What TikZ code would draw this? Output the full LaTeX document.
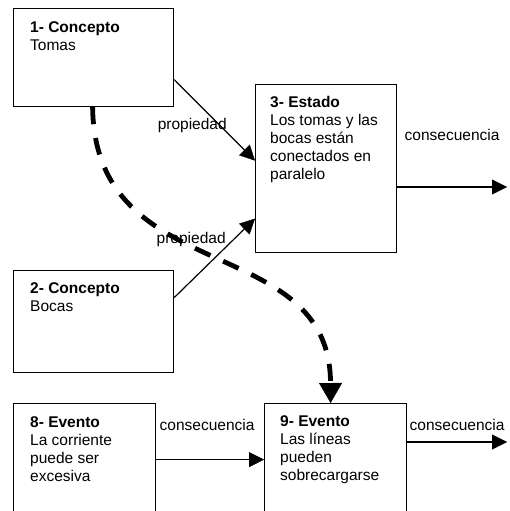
\documentclass[tikz,border=0pt]{standalone}
\usepackage{fontspec}
\setmainfont{Liberation Sans}
\usetikzlibrary{arrows.meta,positioning}
\definecolor{cmink}{HTML}{000000}
\tikzset{
  cmbox/.style={draw=cmink, line width=1.2pt, fill=white, anchor=north west, inner sep=0pt},
  cmtext/.style={inner sep=0pt, align=left, font=\fontsize{15.5}{18}\selectfont},
  cmedge/.style={-{Triangle[length=15pt,width=15pt,line width=0.4pt]}, draw=cmink, line width=1.2pt},
  cmlink/.style={-{Triangle[length=20pt,width=23pt,line width=0.4pt]}, draw=cmink, line width=4.8pt,
                 dash pattern=on 17pt off 14pt},
  cmlabel/.style={font=\fontsize{15.5}{18}\selectfont, inner sep=0pt},
}

\begin{document}
\begin{tikzpicture}[x=1pt,y=-1pt]
  \clip (0,0) rectangle (509,511);
  % concepts
  \node[cmbox, minimum width=160pt, minimum height=98pt] (c1) at (13,8) {};
  \node[cmtext, below right=13pt and 17pt of c1.north west] (c1t) {\textbf{1- Concepto}\\Tomas};
  \node[cmbox, minimum width=160pt, minimum height=102pt] (c2) at (13,270) {};
  \node[cmtext, below right=12pt and 17pt of c2.north west] (c2t) {\textbf{2- Concepto}\\Bocas};

  % state
  \node[cmbox, minimum width=141pt, minimum height=168pt] (e3) at (255,84) {};
  \node[cmtext, below right=12pt and 15pt of e3.north west] (e3t)
    {\textbf{3- Estado}\\Los tomas y las\\bocas están\\conectados en\\paralelo};

  % events
  \node[cmbox, minimum width=142pt, minimum height=112pt] (e8) at (13,403) {};
  \node[cmtext, below right=13pt and 17pt of e8.north west] (e8t)
    {\textbf{8- Evento}\\La corriente\\puede ser\\excesiva};
  \node[cmbox, minimum width=142pt, minimum height=130pt] (e9) at (264,403) {};
  \node[cmtext, below right=12pt and 16pt of e9.north west] (e9t)
    {\textbf{9- Evento}\\Las líneas\\pueden\\sobrecargarse};

  \coordinate (o3) at (507,187);
  \coordinate (o9) at (507,442);

  \draw[cmedge] ([yshift=-22pt]c1.east) -- node[cmlabel, pos=0.57, xshift=-28pt] (l1) {propiedad} ([yshift=8pt]e3.west);
  \draw[cmedge] ([yshift=24pt]c2.east) -- node[cmlabel, pos=0.73, xshift=-42pt] (l2) {propiedad} ([yshift=-50pt]e3.west);
  \draw[cmedge] (e3.east |- o3) -- node[cmlabel, anchor=base, yshift=47pt] (l3) {consecuencia} (o3);
  \draw[cmedge] (e8) -- node[cmlabel, anchor=base, yshift=29pt, xshift=-3pt] (l8) {consecuencia} (e9.west |- e8);
  \draw[cmedge] (e9.east |- o9) -- node[cmlabel, anchor=base, yshift=12pt] (l9) {consecuencia} (o9);

  % dashed link
  \draw[cmlink] ([xshift=-1pt]c1.south) .. controls (95,290) and (330,230) .. ([xshift=-5pt]e9.north);
\end{tikzpicture}
\end{document}
